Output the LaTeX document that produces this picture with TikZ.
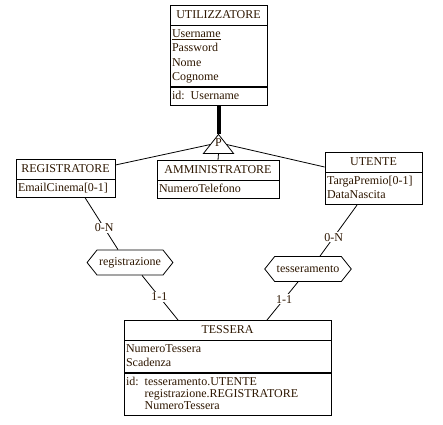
\documentclass[tikz,border=0pt]{standalone}
\usepackage{fontspec}
\setmainfont{Liberation Serif}
\usetikzlibrary{positioning,calc,shapes.symbols}
\definecolor{ertext}{RGB}{45,22,0}
\newcommand{\erfont}{\fontsize{12}{14.5}\selectfont}

\begin{document}
\begin{tikzpicture}[x=1pt, y=-1pt,
  head/.style={draw, line width=0.8pt, anchor=north, text width=#1, align=center, inner xsep=2pt, inner ysep=2.5pt, font=\erfont, text=ertext, execute at begin node=\strut},
  body/.style={draw, line width=0.8pt, text width=#1, align=left, inner xsep=2pt, inner ysep=1.5pt, font=\erfont, text=ertext, execute at begin node=\strut, execute at end node=\strut},
  rel/.style={draw, line width=0.8pt, signal, signal to=east and west, signal pointer angle=103, minimum width=74pt, minimum height=25pt, inner xsep=2pt, inner ysep=1pt, font=\erfont, text=ertext},
  card/.style={fill=white, inner sep=1pt, font=\erfont, text=ertext},
  link/.style={line width=0.8pt}
]
\useasboundingbox (0,0) rectangle (443,424);

% entities
\node[head=93pt] (utilizzatore) at (218.5,5) {UTILIZZATORE};
\node[body=93pt, below=0pt of utilizzatore] (utilizzatore-att) {\underline{Username}\\Password\\Nome\\Cognome};
\node[body=93pt, below=0pt of utilizzatore-att] (utilizzatore-id) {id: Username};

\node[head=95pt] (registratore) at (65.5,159) {REGISTRATORE};
\node[body=95pt, below=0pt of registratore] (registratore-att) {EmailCinema[0-1]};

\node[head=118pt] (amministratore) at (218,160) {AMMINISTRATORE};
\node[body=118pt, below=0pt of amministratore] (amministratore-att) {NumeroTelefono};

\node[head=93pt] (utente) at (373.5,152) {UTENTE};
\node[body=93pt, below=0pt of utente] (utente-att) {TargaPremio[0-1]\\DataNascita};

\node[head=203pt] (tessera) at (227.5,320) {TESSERA};
\node[body=203pt, below=0pt of tessera] (tessera-att) {NumeroTessera\\Scadenza};
\node[body=203pt, below=0pt of tessera-att] (tessera-id) {\begin{tabular}[t]{@{}l@{ }l@{}}id: & tesseramento.UTENTE\\[-2.5pt] & registrazione.REGISTRATORE\\[-2.5pt] & NumeroTessera\end{tabular}};

% generalization
\coordinate (isatop) at ([yshift=-29pt]utilizzatore-id.south);
\draw[line width=4pt] (utilizzatore-id.south) -- (isatop);
\draw[link, fill=white] (isatop) -- ++(-15,19) coordinate (isabl) -- ++(30,0) coordinate (isabr) -- cycle;
\coordinate (isaleft) at ($(isatop)!0.53!(isabl)$);
\coordinate (isaright) at ($(isatop)!0.53!(isabr)$);
\coordinate (isabase) at ($(isabl)!0.5!(isabr)$);
\node[font=\erfont, text=ertext, inner sep=0pt, anchor=base] (isa) at ([yshift=7pt]isabase) {P};
\draw[link] (isaleft) -- ([yshift=-6pt]registratore.north east);
\draw[link] (isabase) -- (amministratore.north);
\draw[link] (isaright) -- ([yshift=-15pt]utente.north west);

% relationships
\node[rel] (registrazione) at (130,262.5) {registrazione};
\node[rel] (tesseramento) at (308,269) {tesseramento};

\draw[link] ([xshift=19.5pt]registratore-att.south) -- node[card, pos=0.58] {0-N} ([xshift=-12pt]registrazione.north);
\draw[link] ([xshift=12pt]registrazione.south) -- node[card, pos=0.48] {1-1} ([xshift=-49.5pt]tessera.north);
\draw[link] ([xshift=-16.5pt]utente-att.south) -- node[card, pos=0.63] {0-N} ([xshift=12pt]tesseramento.north);
\draw[link] ([xshift=-10pt]tesseramento.south) -- node[card, pos=0.45] {1-1} ([xshift=39.5pt]tessera.north);
\end{tikzpicture}
\end{document}
